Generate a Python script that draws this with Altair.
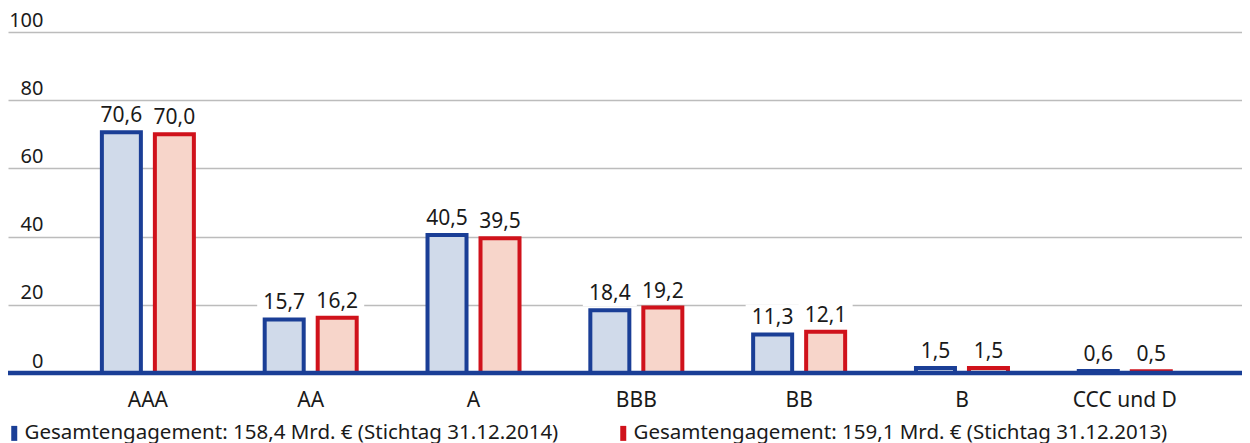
import altair as alt
import pandas as pd

categories = ["AAA", "AA", "A", "BBB", "BB", "B", "CCC und D"]
values_2014 = [70.6, 15.7, 40.5, 18.4, 11.3, 1.5, 0.6]
values_2013 = [70.0, 16.2, 39.5, 19.2, 12.1, 1.5, 0.5]
series_labels = [
    "Gesamtengagement: 158,4 Mrd. € (Stichtag 31.12.2014)",
    "Gesamtengagement: 159,1 Mrd. € (Stichtag 31.12.2013)",
]
y_ticks = [0, 20, 40, 60, 80, 100]

BLUE = "#1a3e96"
RED = "#d0121b"
LIGHT_BLUE = "#d0daea"
LIGHT_RED = "#f7d5ca"
FONT = "Noto Sans"
TEXT = "#1a1a1a"
FS = 21

rows = []
for cat, v14, v13 in zip(categories, values_2014, values_2013):
    rows.append({"cat": cat, "series": series_labels[0], "leg": series_labels[0], "val": v14,
                 "lbl": f"{v14:.1f}".replace(".", ",")})
    rows.append({"cat": cat, "series": series_labels[1], "leg": series_labels[1], "val": v13,
                 "lbl": f"{v13:.1f}".replace(".", ",")})
df = pd.DataFrame(rows)

x_enc = alt.X(
    "cat:N", sort=categories,
    scale=alt.Scale(paddingInner=0.349, paddingOuter=0.464, align=0.575),
    axis=alt.Axis(title=None, ticks=False, domain=False, labelAngle=0,
                  labelFont=FONT, labelFontSize=FS, labelColor=TEXT,
                  labelBaseline="alphabetic", labelPadding=33),
)
xo_enc = alt.XOffset("series:N", sort=series_labels,
                     scale=alt.Scale(paddingInner=0, paddingOuter=0))
y_enc = alt.Y(
    "val:Q", scale=alt.Scale(domain=[0, 100], nice=False),
    axis=alt.Axis(title=None, values=y_ticks, ticks=False, domain=False,
                  grid=True, gridColor="#bcbcbc", gridWidth=1.6,
                  labelFont=FONT, labelFontSize=20, labelColor=TEXT,
                  labelAlign="right", labelBaseline="alphabetic",
                  labelPadding=-35, labelOffset=-6),
)

base = alt.Chart(df)

mask = base.mark_bar(color="white", width=54, yOffset=-4, y2Offset=-30).encode(
    x=x_enc, xOffset=xo_enc, y=y_enc, y2=alt.Y2("val:Q")
)

bars = base.mark_bar(width=39, strokeWidth=4).encode(
    x=x_enc, xOffset=xo_enc, y=y_enc,
    fill=alt.Fill("series:N", scale=alt.Scale(domain=series_labels, range=[LIGHT_BLUE, LIGHT_RED]), legend=None),
    stroke=alt.Stroke("series:N", scale=alt.Scale(domain=series_labels, range=[BLUE, RED]), legend=None),
)

labels = base.mark_text(baseline="alphabetic", dy=-10, font=FONT, fontSize=FS, color=TEXT).encode(
    x=x_enc, xOffset=xo_enc, y=y_enc, text="lbl:N"
)

legend_pts = base.mark_point(filled=True, size=0).encode(
    x=x_enc, xOffset=xo_enc, y=y_enc,
    color=alt.Color(
        "leg:N", sort=series_labels,
        scale=alt.Scale(range=[BLUE, RED]),
        legend=alt.Legend(
            title=None, orient="none", legendX=-4, legendY=391,
            direction="horizontal", symbolType="M-0.6,-1.5H0.6V1.5H-0.6Z",
            symbolSize=100, symbolOpacity=1, symbolStrokeWidth=0,
            labelFont=FONT, labelFontSize=20.5, labelColor=TEXT,
            labelOffset=0, columnPadding=54, padding=0, labelLimit=1000,
        ),
    ),
)

baseline = alt.Chart(pd.DataFrame({"z": [0]})).mark_rule(color=BLUE, strokeWidth=4.5).encode(
    y=alt.Y("z:Q", scale=alt.Scale(domain=[0, 100], nice=False))
)

chart = alt.layer(mask, bars, labels, baseline, legend_pts).properties(
    width=1234, height=341,
    autosize=alt.AutoSizeParams(type="none"),
    padding={"left": 0, "right": 0, "top": 24, "bottom": 70},
    background="white",
).configure_view(stroke=None)

chart.save("out.html", embed_options={"renderer": "svg", "actions": False})
